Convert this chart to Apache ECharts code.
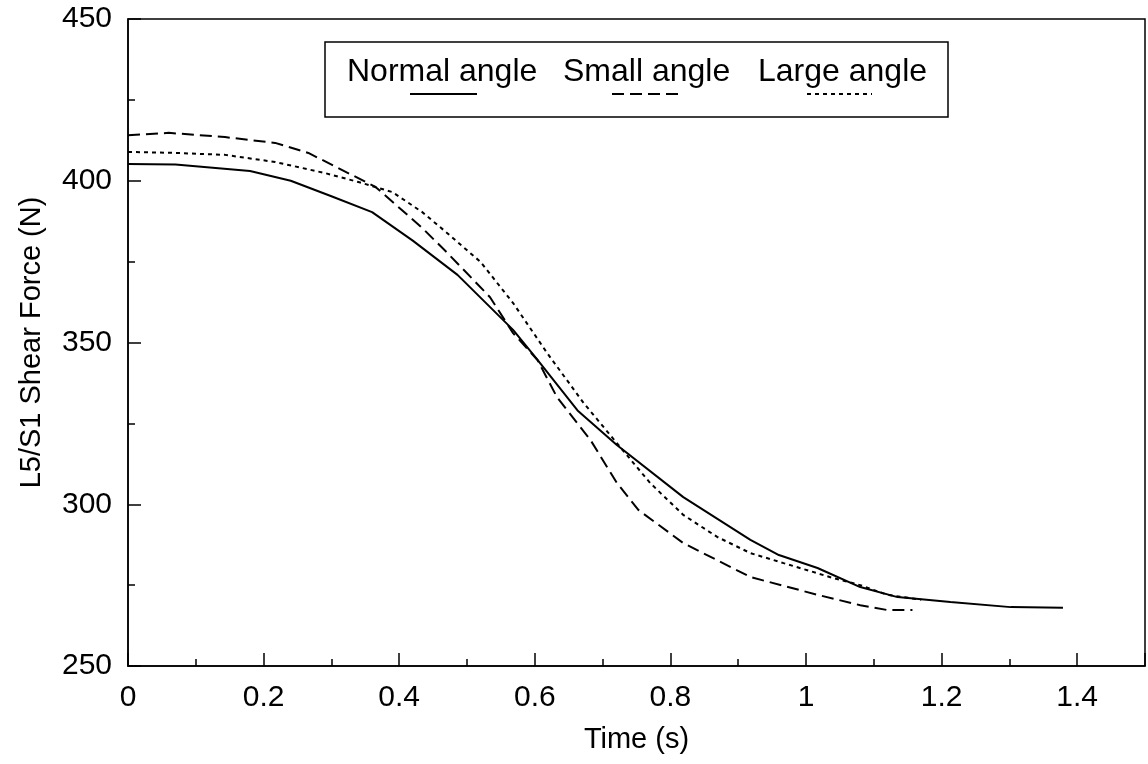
<!DOCTYPE html>
<html>
<head>
<meta charset="utf-8">
<title>L5/S1 Shear Force vs Time</title>
<script src="https://cdn.jsdelivr.net/npm/echarts@6/dist/echarts.min.js"></script>
<style>
  html, body { margin: 0; padding: 0; background: #fff; }
  #chart { width: 1148px; height: 764px; }
</style>
</head>
<body>
<div id="chart"></div>
<script>
// Shear force at L5/S1 over time for three trunk angles
const seriesNames = ['Normal angle', 'Small angle', 'Large angle'];

const normalTime  = [0, 0.07, 0.18, 0.24, 0.30, 0.36, 0.42, 0.486, 0.568, 0.604, 0.663, 0.721, 0.819, 0.918, 0.960, 1.017, 1.08, 1.135, 1.213, 1.302, 1.379];
const normalForce = [405.2, 405, 403, 400, 395.2, 390.3, 381.5, 370.9, 353.9, 344.6, 329, 318.3, 302.2, 289, 284.3, 280.3, 274.4, 271.3, 269.8, 268.2, 268];

const smallTime  = [0, 0.06, 0.143, 0.217, 0.266, 0.316, 0.365, 0.434, 0.471, 0.534, 0.568, 0.604, 0.633, 0.682, 0.721, 0.753, 0.819, 0.918, 1.017, 1.08, 1.12, 1.157];
const smallForce = [414.1, 414.8, 413.5, 411.7, 408.6, 403.3, 398.1, 385.4, 377.7, 364, 352.9, 344.6, 333, 319.9, 306.6, 298.2, 288, 277.5, 272, 268.8, 267.3, 267.3];

const largeTime  = [0, 0.07, 0.143, 0.217, 0.29, 0.34, 0.39, 0.434, 0.471, 0.52, 0.568, 0.618, 0.672, 0.721, 0.77, 0.819, 0.869, 0.918, 0.967, 1.04, 1.08, 1.12, 1.17];
const largeForce = [408.9, 408.6, 408, 405.8, 402.4, 399.6, 396.5, 390.3, 383.8, 374.9, 362.2, 346.8, 331.3, 318.9, 306.6, 296.7, 289.9, 284.9, 281.8, 277.2, 275, 272, 270.5];

const xTickMax = 1.4;   // last labelled time tick

function pairs(xs, ys) {
  return xs.map((x, i) => [x, ys[i]]);
}

const FONT = '"Liberation Sans", Arial, Helvetica, sans-serif';
const chart = echarts.init(document.getElementById('chart'), null, { renderer: 'canvas' });

const lineStyles = [
  { type: 'solid', width: 2 },
  { type: [12, 6], width: 2 },
  { type: [4, 4], width: 2 }
];

// hand-laid legend box: label text with its line sample underneath
const legendItems = [
  { text: seriesNames[0], x: 347, lx1: 410, lx2: 477 },
  { text: seriesNames[1], x: 563, lx1: 612, lx2: 680 },
  { text: seriesNames[2], x: 758, lx1: 807, lx2: 872 }
];
const legendGraphics = [{
  type: 'rect',
  shape: { x: 325, y: 42, width: 623, height: 75 },
  style: { fill: '#fff', stroke: '#000', lineWidth: 1.5 },
  z: 10
}];
legendItems.forEach((it, i) => {
  legendGraphics.push({
    type: 'text',
    x: it.x, y: 72,
    style: {
      text: it.text, fontFamily: FONT, fontSize: 32, fill: '#000',
      align: 'left', verticalAlign: 'middle'
    },
    z: 11
  });
  legendGraphics.push({
    type: 'line',
    shape: { x1: it.lx1, y1: 94, x2: it.lx2, y2: 94 },
    style: { stroke: '#000', lineWidth: 2, lineDash: i === 0 ? null : lineStyles[i].type },
    z: 11
  });
});

const option = {
  backgroundColor: '#fff',
  animation: false,
  grid: {
    left: 128, right: 3, top: 19, bottom: 98,
    show: true, borderColor: '#000', borderWidth: 1.5
  },
  xAxis: {
    type: 'value',
    min: 0, max: 1.5, interval: 0.2,
    name: 'Time (s)',
    nameLocation: 'middle',
    nameGap: 59,
    nameTextStyle: { fontFamily: FONT, fontSize: 29, color: '#000' },
    axisLine: { show: true, lineStyle: { color: '#000', width: 1.5 } },
    axisTick: { show: true, inside: true, length: 13, lineStyle: { color: '#000', width: 1.5 } },
    minorTick: { show: true, splitNumber: 2, length: 7, lineStyle: { color: '#000', width: 1.5 } },
    splitLine: { show: false },
    axisLabel: {
      fontFamily: FONT, fontSize: 30, color: '#000', margin: 17,
      formatter: v => (v > xTickMax + 1e-6 ? '' : String(+v.toFixed(1)))
    }
  },
  yAxis: {
    type: 'value',
    min: 250, max: 450, interval: 50,
    name: 'L5/S1 Shear Force (N)',
    nameLocation: 'middle',
    nameGap: 82,
    nameTextStyle: { fontFamily: FONT, fontSize: 29, color: '#000' },
    axisLine: { show: true, lineStyle: { color: '#000', width: 1.5 } },
    axisTick: { show: true, inside: true, length: 13, lineStyle: { color: '#000', width: 1.5 } },
    minorTick: { show: true, splitNumber: 2, length: 7, lineStyle: { color: '#000', width: 1.5 } },
    splitLine: { show: false },
    axisLabel: { fontFamily: FONT, fontSize: 30, color: '#000', margin: 16 }
  },
  series: [
    { name: seriesNames[0], data: pairs(normalTime, normalForce) },
    { name: seriesNames[1], data: pairs(smallTime, smallForce) },
    { name: seriesNames[2], data: pairs(largeTime, largeForce) }
  ].map((s, i) => ({
    type: 'line',
    name: s.name,
    data: s.data,
    showSymbol: false,
    smooth: false,
    lineStyle: Object.assign({ color: '#000' }, lineStyles[i]),
    z: 3
  })),
  graphic: legendGraphics
};

chart.setOption(option);
</script>
</body>
</html>
